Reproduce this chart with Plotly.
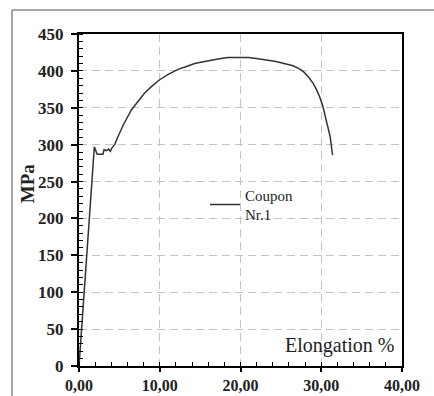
import plotly.graph_objects as go

elongation = [0.0, 0.35, 1.0, 1.45, 1.9, 2.25, 2.6, 2.97, 3.1, 3.38, 3.67, 3.88, 4.1, 4.42, 4.75,
              5.5, 6.48, 7.3, 8.13, 9.0, 9.99, 11.0, 12.26, 13.3, 14.33, 15.4, 16.39, 17.4,
              18.45, 19.9, 21.0, 22.17, 23.2, 24.2, 24.9, 25.8, 26.5, 27.2, 27.8, 28.4,
              29.0, 29.4, 29.8, 30.2, 30.5, 30.8, 31.1, 31.4]
stress = [0.0, 55, 150, 215, 297, 287, 287, 287, 293, 292, 294, 291, 296, 300, 309,
          327, 347, 359, 370, 379, 388, 395, 402, 406, 410, 412.5, 414.7, 416.5,
          418, 418.4, 418, 416.5, 415, 413, 411.5, 409.5, 407, 403.5, 399, 392,
          383, 375, 365, 352, 338, 325, 311, 286]

x_ticks = [0, 10, 20, 30, 40]
x_tick_labels = ["0,00", "10,00", "20,00", "30,00", "40,00"]
y_ticks = [0, 50, 100, 150, 200, 250, 300, 350, 400, 450]

SERIF = "Liberation Serif, Times New Roman, serif"

fig = go.Figure()
fig.add_trace(go.Scatter(
    x=elongation, y=stress, mode="lines",
    line=dict(color="#333333", width=1.5),
    name="Coupon<br>Nr.1", showlegend=True,
))

axis_common = dict(
    showline=True, linecolor="black", linewidth=2, mirror=True,
    showgrid=True, gridcolor="#c4c4c4", gridwidth=1, griddash="8px,5px",
    zeroline=False, automargin=False,
    ticks="outside", tickwidth=1.5, tickcolor="black",
)

fig.update_xaxes(
    **axis_common,
    range=[0, 40], tickvals=x_ticks, ticktext=x_tick_labels,
    ticklen=4, ticklabelstandoff=0,
    tickfont=dict(family=SERIF, size=16, color="#222", weight="bold"),
    minor=dict(dtick=2, ticks="inside", ticklen=4, tickcolor="black", tickwidth=1, showgrid=False),
)
fig.update_yaxes(
    **axis_common,
    range=[0, 450], tickvals=y_ticks,
    ticklen=6, ticklabelstandoff=4,
    tickfont=dict(family=SERIF, size=17, color="#222", weight="bold"),
    minor=dict(dtick=10, ticks="inside", ticklen=4, tickcolor="black", tickwidth=1, showgrid=False),
)

fig.update_layout(
    width=434, height=396,
    margin=dict(l=79, r=32, t=34, b=30),
    paper_bgcolor="white", plot_bgcolor="white",
    legend=dict(
        x=0.39, y=0.565, xanchor="left", yanchor="top",
        bgcolor="rgba(0,0,0,0)",
        font=dict(family=SERIF, size=15, color="#222"),
    ),
    annotations=[
        dict(text="MPa", xref="paper", yref="paper", x=-0.197, y=0.55,
             textangle=-90, showarrow=False,
             font=dict(family=SERIF, size=19, color="#222", weight="bold")),
        dict(text="Elongation %", xref="paper", yref="paper", x=0.98, y=0.063,
             xanchor="right", yanchor="middle", showarrow=False,
             font=dict(family=SERIF, size=20, color="#222")),
    ],
    shapes=[
        dict(type="line", xref="paper", yref="paper", x0=-0.2074, x1=1.2, y0=1.0723, y1=1.0723,
             line=dict(color="#888888", width=1.5)),
        dict(type="line", xref="paper", yref="paper", x0=-0.2074, x1=-0.2074, y0=-0.2, y1=1.0723,
             line=dict(color="#888888", width=1.5)),
    ],
)

fig.write_html("out.html")
